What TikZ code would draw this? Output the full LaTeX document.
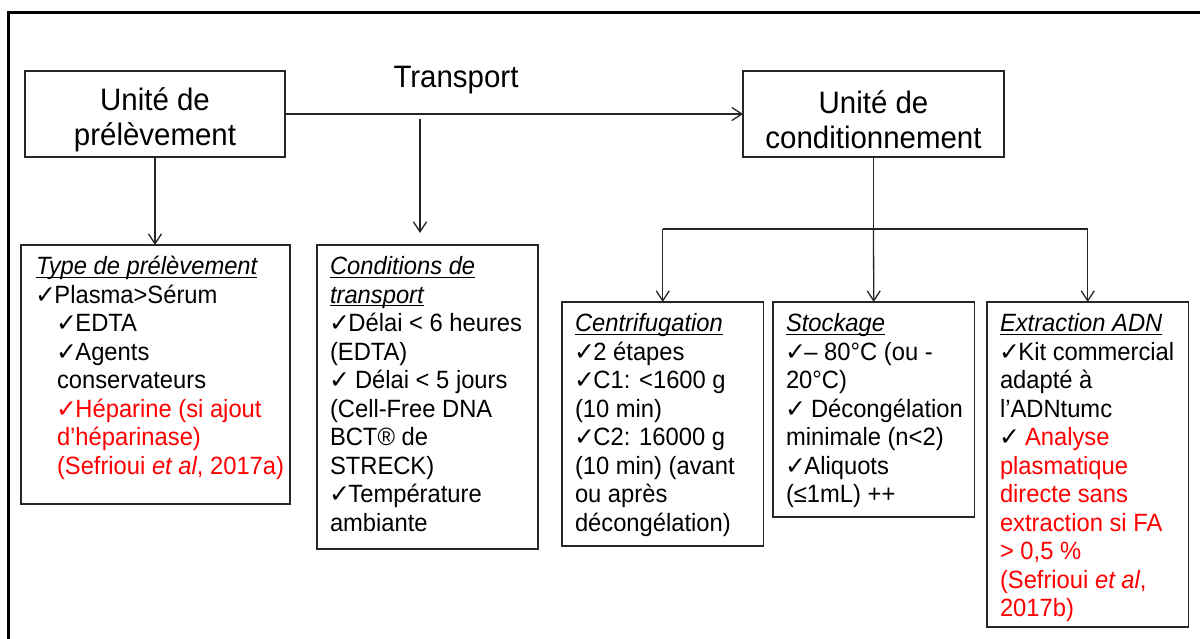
\documentclass[tikz,border=0pt]{standalone}
\usepackage{fontspec}
\setmainfont{Liberation Sans}[FakeStretch=0.95]
\newfontfamily\chkfont{DejaVu Sans}[Scale=1.0]
\usetikzlibrary{arrows.meta}
\newsavebox\ulbox
\newcommand\ult[1]{\sbox\ulbox{\itshape #1}\rlap{\rule[-3pt]{\wd\ulbox}{1.3pt}}\usebox\ulbox}
\newcommand\ck{{\chkfont\hspace{-1pt}✓\hspace{-1.5pt}}}
\newcommand\ind{\hspace*{21pt}}
\begin{document}
\begin{tikzpicture}[x=1pt,y=-1pt,
  mainbox/.style={draw=black!85, line width=1.4pt, inner sep=0pt, outer sep=0pt, align=center, font=\fontsize{31}{35}\selectfont},
  subbox/.style={draw=black!85, line width=1.4pt, inner sep=0pt, outer sep=0pt, anchor=north west},
  subtext/.style={inner sep=0pt, outer sep=0pt, anchor=north west, align=left, font=\fontsize{25}{28.5}\selectfont},
  conn/.style={line width=1.3pt, black!85},
  arr/.style={conn, -{Straight Barb[length=10pt,width=13pt,line width=1.3pt]}}
]
\useasboundingbox (0,0) rectangle (1200,638);
\draw[line width=3pt] (8.3,641) -- (8.3,12.5) -- (1203,12.5);

\node[mainbox, minimum width=260pt, minimum height=86pt] (A) at (155,114) {\rule{0pt}{34pt}Unité de\\prélèvement};
\node[mainbox, minimum width=261pt, minimum height=86pt] (B) at (873.5,114) {\rule{0pt}{34pt}Unité de\\conditionnement};
\node[inner sep=0pt, anchor=base, font=\fontsize{31}{35}\selectfont] (T) at (456,87) {Transport};

\node[subbox, minimum width=269pt, minimum height=259pt] (C) at (21,245) {};
\node[subbox, minimum width=221pt, minimum height=304pt] (D) at (317,245) {};
\node[subbox, minimum width=201.5pt, minimum height=244pt] (E) at (562,302) {};
\node[subbox, minimum width=201.5pt, minimum height=215pt] (F) at (773,302) {};
\node[subbox, minimum width=201.5pt, minimum height=325pt] (G) at (987,302) {};

\node[subtext] (Ct) at (36,255) {\strut\ult{Type de prélèvement}\\
\ck Plasma>Sérum\\
\ind\ck EDTA\\
\ind\ck Agents\\
\ind conservateurs\\
\ind{\color{red}\ck Héparine (si ajout}\\
\ind{\color{red}d’héparinase)}\\
\ind{\color{red}(Sefrioui \textit{et al}, 2017a)}};

\node[subtext] (Dt) at (330,255) {\strut\ult{Conditions de}\\
\ult{transport}\\
\ck Délai < 6 heures\\
(EDTA)\\
\ck\ Délai < 5 jours\\
(Cell-Free DNA\\
BCT® de\\
STRECK)\\
\ck Température\\
ambiante};

\node[subtext] (Et) at (575,312) {\strut\ult{Centrifugation}\\
\ck 2 étapes\\
\ck C1: <1600 g\\
(10 min)\\
\ck C2: 16000 g\\
(10 min) (avant\\
ou après\\
décongélation)};

\node[subtext] (Ft) at (786,312) {\strut\ult{Stockage}\\
\ck– 80°C (ou -\\
20°C)\\
\ck\ Décongélation\\
minimale (n<2)\\
\ck Aliquots\\
(≤1mL) ++};

\node[subtext] (Gt) at (1000,312) {\strut\ult{Extraction ADN}\\
\ck Kit commercial\\
adapté à\\
l’ADNtumc\\
\ck\ {\color{red}Analyse}\\
{\color{red}plasmatique}\\
{\color{red}directe sans}\\
{\color{red}extraction si FA}\\
{\color{red}> 0,5 \%}\\
{\color{red}(Sefrioui \textit{et al},}\\
{\color{red}2017b)}};

\draw[arr] (A.east) -- (B.west);
\draw[arr] (A.south) -- (A.south |- C.north);
\coordinate (t1) at (420,119);
\coordinate (t2) at (420,233);
\draw[arr] (t1) -- (t2);
\coordinate (J) at (873.5,229);
\draw[conn] (B.south) -- (J);
\coordinate (jE) at (E.north |- J);
\coordinate (jG) at (G.north |- J);
\draw[conn] (jE) -- (jG);
\draw[arr] (jE) -- (E.north);
\draw[arr] (J) -- (F.north);
\draw[arr] (jG) -- (G.north);
\end{tikzpicture}
\end{document}
